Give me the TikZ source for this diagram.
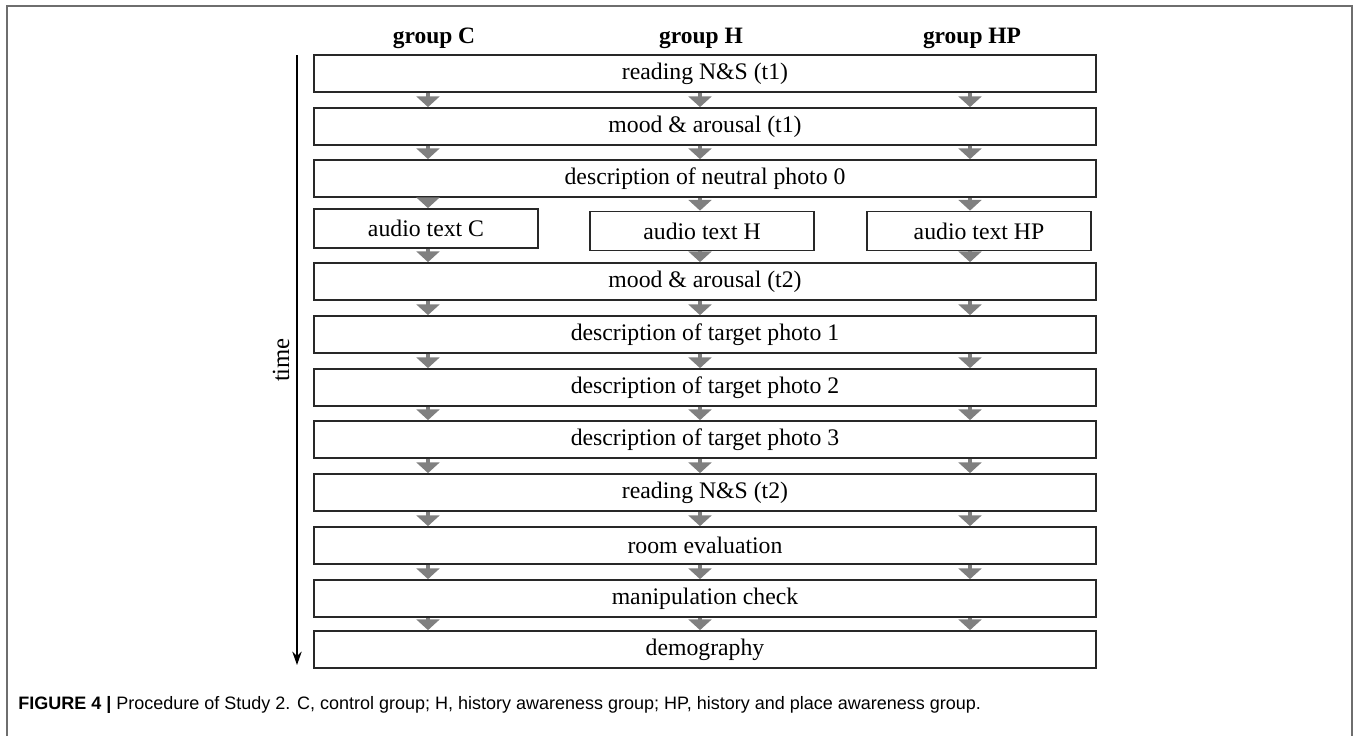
\documentclass[tikz,border=0pt]{standalone}
\usepackage{fontspec}
\setmainfont{Liberation Serif}
\newfontfamily\capfont{Liberation Sans}
\usetikzlibrary{arrows.meta}
\definecolor{boxline}{RGB}{40,40,40}
\definecolor{flowgray}{RGB}{128,128,128}
\definecolor{framegray}{RGB}{110,110,110}
\tikzset{
  stagebox/.style={draw=boxline, line width=1.3pt, rectangle, minimum width=586.5pt, minimum height=27.75pt, inner sep=0pt, font=\fontsize{17.8}{20}\selectfont},
  audiobox/.style={stagebox, minimum width=168pt, minimum height=29.25pt},
  header/.style={font=\fontsize{17.6}{20}\selectfont\bfseries},
  flow/.style={draw=flowgray, line width=2.6pt, -{Triangle[width=17pt,length=8pt]}, flowgray},
  timearrow/.style={draw=black, line width=1.4pt, -{Stealth[width=7pt,length=10pt]}},
}
\begin{document}
\begin{tikzpicture}[x=0.75pt,y=-0.75pt]
\useasboundingbox (0,0) rectangle (1357,736);
% frame
\draw[framegray, line width=1.2pt] (7,736) -- (7,6) -- (1352,6) -- (1352,736);
% column coordinates
\coordinate (cC) at (428,0);
\coordinate (cH) at (700,0);
\coordinate (cHP) at (970,0);
% headers
\node[header] (hC) at (434,38) {group C};
\node[header] (hH) at (701,38) {group H};
\node[header] (hHP) at (972,38) {group HP};
% boxes
\node[stagebox] (b1) at (705,73.5) {reading N\&S (t1)};
\node[stagebox] (b2) at (705,126.5) {mood \& arousal (t1)};
\node[stagebox] (b3) at (705,178.5) {description of neutral photo 0};
\node[audiobox] (aC) at (426,228.5) {audio text C};
\node[audiobox] (aH) at (702,231) {audio text H};
\node[audiobox] (aHP) at (979,231) {audio text HP};
\node[stagebox] (b5) at (705,281.5) {mood \& arousal (t2)};
\node[stagebox] (b6) at (705,334.5) {description of target photo 1};
\node[stagebox] (b7) at (705,387.5) {description of target photo 2};
\node[stagebox] (b8) at (705,439.5) {description of target photo 3};
\node[stagebox] (b9) at (705,492.5) {reading N\&S (t2)};
\node[stagebox] (b10) at (705,545.5) {room evaluation};
\node[stagebox] (b11) at (705,598.5) {manipulation check};
\node[stagebox] (b12) at (705,649.5) {demography};
% flow arrows
\foreach \u/\v in {b1/b2,b2/b3,b5/b6,b6/b7,b7/b8,b8/b9,b9/b10,b10/b11,b11/b12}{
  \foreach \c in {cC,cH,cHP}{
    \draw[flow] (\u.south -| \c) -- (\v.north -| \c);
  }
}
\draw[flow] (b3.south -| cC) -- (aC.north -| cC);
\draw[flow] (b3.south -| cH) -- (aH.north -| cH);
\draw[flow] (b3.south -| cHP) -- (aHP.north -| cHP);
\draw[flow] (aC.south -| cC) -- (b5.north -| cC);
\draw[flow] (aH.south -| cH) -- (b5.north -| cH);
\draw[flow] (aHP.south -| cHP) -- (b5.north -| cHP);
% time axis
\coordinate (tTop) at (297,55);
\coordinate (tBot) at (297,665);
\draw[timearrow] (tTop) -- (tBot);
\node[rotate=90, font=\fontsize{18.5}{20}\selectfont] (timelbl) at (281,360) {time};
% caption
\node[anchor=west, font=\capfont\fontsize{13.5}{16}\selectfont, inner sep=0pt] (cap) at (18,705) {\textbf{FIGURE 4 |} Procedure of Study 2. C, control group; H, history awareness group; HP, history and place awareness group.};
\end{tikzpicture}
\end{document}
